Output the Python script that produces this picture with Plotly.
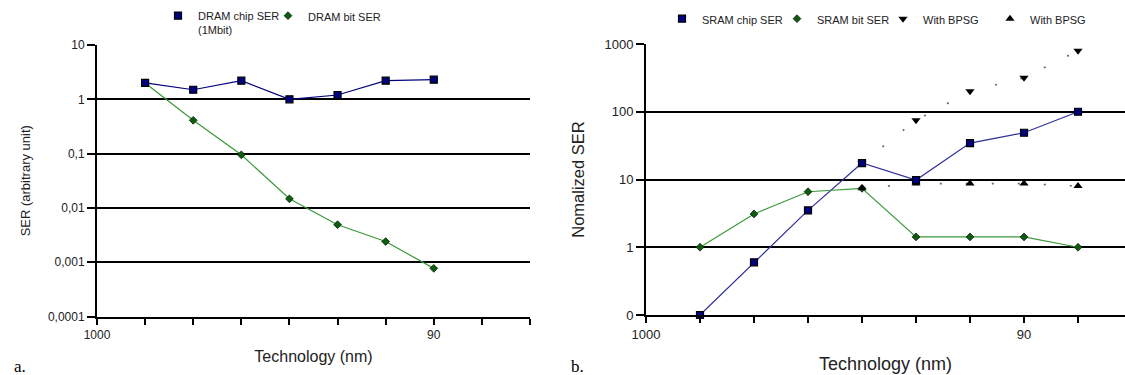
import plotly.graph_objects as go

# ---------------- data ----------------
tick_pos_left = list(range(10))
tick_text_left = ["1000", "", "", "", "", "", "", "90", "", ""]
tick_pos_right = list(range(9))
tick_text_right = ["1000", "", "", "", "", "", "", "90", ""]

ytick_vals_left = [1e-4, 1e-3, 1e-2, 1e-1, 1, 10]
ytick_text_left = ["0,0001", "0,001", "0,01", "0,1", "1", "10"]
ytick_vals_right = [0.1, 1, 10, 100, 1000]
ytick_text_right = ["0", "1", "10", "100", "1000"]

dram_x = [1, 2, 3, 4, 5, 6, 7]
dram_chip = [2.0, 1.5, 2.2, 1.0, 1.2, 2.2, 2.3]
dram_bit = [2.0, 0.41, 0.095, 0.0147, 0.0049, 0.0024, 0.00077]

sram_x = [1, 2, 3, 4, 5, 6, 7, 8]
sram_chip = [0.1, 0.6, 3.5, 17.5, 9.8, 34.5, 49, 100]
sram_bit = [1.0, 3.1, 6.6, 7.4, 1.42, 1.42, 1.42, 1.0]

bpsg_x = [4, 5, 6, 7, 8]
bpsg_down = [17.5, 75, 200, 318, 795]
bpsg_up = [7.4, 8.7, 8.7, 8.7, 8.0]

# ---------------- styles ----------------
FONT = "Liberation Sans, Arial, sans-serif"
NAVY = "#000080"
CHIP_LINE = "#2f2f9a"
GREEN_LINE = "#3a9a3a"
GREEN_MK = "#0b5e0b"

W, H = 1125, 375


def fx(px):
    return px / W


def fy(py):
    return 1 - py / H


fig = go.Figure()

# ---- left panel (DRAM) ----
fig.add_trace(go.Scatter(x=dram_x, y=dram_chip, mode="lines",
                         line=dict(color=NAVY, width=1.2),
                         showlegend=False, xaxis="x", yaxis="y"))
fig.add_trace(go.Scatter(x=dram_x, y=dram_bit, mode="lines",
                         line=dict(color=GREEN_LINE, width=1.2),
                         showlegend=False, xaxis="x", yaxis="y"))
fig.add_trace(go.Scatter(x=dram_x, y=dram_bit, mode="markers",
                         name="DRAM bit SER",
                         marker=dict(symbol="diamond", size=6, color=GREEN_MK,
                                     line=dict(color="#1a1a1a", width=0.8)),
                         legend="legend2", xaxis="x", yaxis="y"))
fig.add_trace(go.Scatter(x=dram_x, y=dram_chip, mode="markers",
                         name="DRAM chip SER<br>(1Mbit)",
                         marker=dict(symbol="square", size=7, color=NAVY,
                                     line=dict(color="black", width=1.2)),
                         legend="legend", xaxis="x", yaxis="y"))

# ---- right panel (SRAM) ----
fig.add_trace(go.Scatter(x=bpsg_x, y=bpsg_down, mode="lines",
                         line=dict(color="#666666", width=1.6, dash="2px,24px"),
                         showlegend=False, xaxis="x2", yaxis="y2"))
fig.add_trace(go.Scatter(x=bpsg_x, y=bpsg_up, mode="lines",
                         line=dict(color="#666666", width=1.6, dash="2px,24px"),
                         showlegend=False, xaxis="x2", yaxis="y2"))
fig.add_trace(go.Scatter(x=sram_x, y=sram_chip, mode="lines",
                         line=dict(color=CHIP_LINE, width=1.2),
                         showlegend=False, cliponaxis=False, xaxis="x2", yaxis="y2"))
fig.add_trace(go.Scatter(x=sram_x, y=sram_bit, mode="lines",
                         line=dict(color=GREEN_LINE, width=1.2),
                         showlegend=False, xaxis="x2", yaxis="y2"))
fig.add_trace(go.Scatter(x=sram_x, y=sram_bit, mode="markers",
                         name="SRAM bit SER",
                         marker=dict(symbol="diamond", size=6, color=GREEN_MK,
                                     line=dict(color="#1a1a1a", width=0.8)),
                         legend="legend4", xaxis="x2", yaxis="y2"))
fig.add_trace(go.Scatter(x=bpsg_x, y=bpsg_up, mode="markers",
                         name="With BPSG",
                         marker=dict(symbol="triangle-up", size=8, color="black"),
                         legend="legend6", xaxis="x2", yaxis="y2"))
fig.add_trace(go.Scatter(x=bpsg_x, y=bpsg_down, mode="markers",
                         name="With BPSG",
                         marker=dict(symbol="triangle-down", size=8, color="black"),
                         legend="legend5", xaxis="x2", yaxis="y2"))
fig.add_trace(go.Scatter(x=sram_x, y=sram_chip, mode="markers",
                         name="SRAM chip SER",
                         marker=dict(symbol="square", size=7, color=NAVY,
                                     line=dict(color="black", width=1.2)),
                         cliponaxis=False,
                         legend="legend3", xaxis="x2", yaxis="y2"))

axis_common = dict(showline=True, linecolor="black", linewidth=2,
                   ticks="outside", tickcolor="black", tickwidth=2,
                   zeroline=False, color="#222222", automargin=False)


def leg(xpx, ypx, size):
    return dict(orientation="h", x=fx(xpx), y=fy(ypx), xanchor="left", yanchor="top",
                bgcolor="rgba(0,0,0,0)", font=dict(size=size, color="#222222"),
                valign="top", itemwidth=30, borderwidth=0)


fig.update_layout(
    width=W, height=H,
    margin=dict(l=0, r=0, t=0, b=0, autoexpand=False),
    paper_bgcolor="white", plot_bgcolor="white",
    font=dict(family=FONT, color="#222222"),
    xaxis=dict(domain=[fx(97), fx(530)], range=[0, 9], anchor="y",
               tickvals=tick_pos_left, ticktext=tick_text_left, ticklen=6,
               showgrid=False, tickfont=dict(size=12),
               title=dict(text="Technology (nm)", font=dict(size=16), standoff=10),
               **axis_common),
    yaxis=dict(domain=[fy(316.5), fy(45)], type="log", range=[-4, 1], anchor="x",
               tickvals=ytick_vals_left, ticktext=ytick_text_left, ticklen=8,
               showgrid=True, gridcolor="black", gridwidth=2,
               tickfont=dict(size=12),
               title=dict(text="SER (arbitrary unit)", font=dict(size=13), standoff=14),
               **axis_common),
    xaxis2=dict(domain=[fx(646), 1.0], range=[0, 8.87], anchor="y2",
                tickvals=tick_pos_right, ticktext=tick_text_right, ticklen=6,
                showgrid=False, tickfont=dict(size=13),
                title=dict(text="Technology (nm)", font=dict(size=18), standoff=17),
                **axis_common),
    yaxis2=dict(domain=[fy(315), fy(44)], type="log", range=[-1, 3], anchor="x2",
                tickvals=ytick_vals_right, ticktext=ytick_text_right, ticklen=8,
                showgrid=True, gridcolor="black", gridwidth=2,
                tickfont=dict(size=13),
                title=dict(text="Nomalized SER", font=dict(size=16.5), standoff=16),
                **axis_common),
    legend=leg(158, 2, 11),
    legend2=leg(268, 2, 11),
    legend3=leg(662, 5, 11),
    legend4=leg(777, 5, 11),
    legend5=leg(883, 5, 11),
    legend6=leg(990, 5, 11),
    annotations=[
        dict(text="a.", x=fx(12), y=fy(366), xref="paper", yref="paper",
             xanchor="left", yanchor="middle", showarrow=False,
             font=dict(family="Liberation Serif, Times New Roman, serif", size=17, color="black")),
        dict(text="b.", x=fx(569), y=fy(366), xref="paper", yref="paper",
             xanchor="left", yanchor="middle", showarrow=False,
             font=dict(family="Liberation Serif, Times New Roman, serif", size=17, color="black")),
    ],
)

fig.write_html("out.html")
